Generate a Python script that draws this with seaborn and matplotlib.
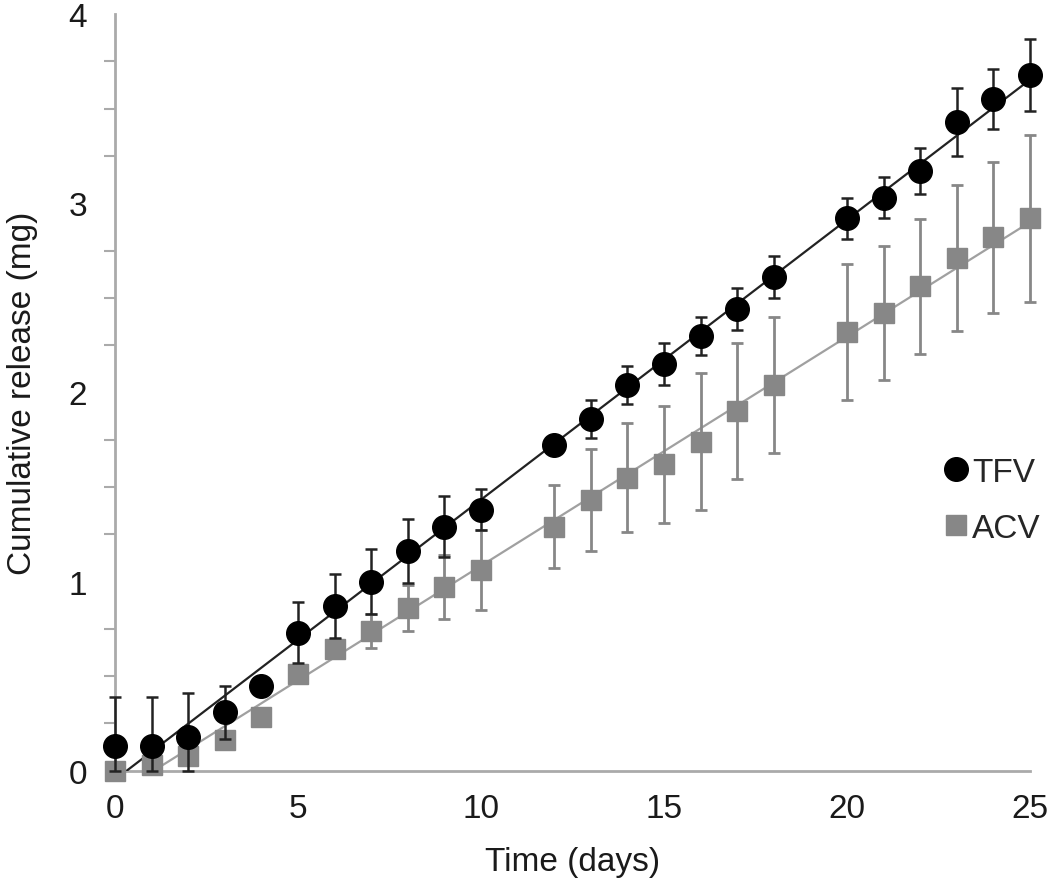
import numpy as np
import pandas as pd
import matplotlib
matplotlib.use("Agg")
import matplotlib.pyplot as plt
from matplotlib.ticker import MultipleLocator
from matplotlib.lines import Line2D
import seaborn as sns

# data
days_tfv = [0, 1, 2, 3, 4, 5, 6, 7, 8, 9, 10, 12, 13, 14, 15, 16, 17, 18, 20, 21, 22, 23, 24, 25]
tfv = [0.13, 0.13, 0.18, 0.31, 0.45, 0.73, 0.87, 1.00, 1.16, 1.29, 1.38, 1.72, 1.86, 2.04,
       2.15, 2.30, 2.44, 2.61, 2.92, 3.03, 3.17, 3.43, 3.55, 3.68]
tfv_err = [0.26, 0.26, 0.23, 0.14, 0.03, 0.16, 0.17, 0.17, 0.17, 0.16, 0.11, 0.03, 0.10, 0.10,
           0.11, 0.10, 0.11, 0.11, 0.11, 0.11, 0.12, 0.18, 0.16, 0.19]

days_acv = days_tfv
acv = [0.00, 0.03, 0.08, 0.16, 0.285, 0.51, 0.645, 0.74, 0.86, 0.97, 1.06, 1.29, 1.43, 1.55,
       1.62, 1.74, 1.90, 2.04, 2.32, 2.42, 2.56, 2.71, 2.82, 2.92]
acv_err = [0.01, 0.01, 0.02, 0.03, 0.02, 0.03, 0.05, 0.09, 0.12, 0.17, 0.21, 0.22, 0.27, 0.29,
           0.31, 0.36, 0.36, 0.36, 0.36, 0.355, 0.355, 0.385, 0.40, 0.44]

df_tfv = pd.DataFrame({"day": days_tfv, "mg": tfv})
df_acv = pd.DataFrame({"day": days_acv, "mg": acv})

# error bars don't go below the x axis
tfv_yerr = [np.minimum(tfv_err, tfv), tfv_err]
acv_yerr = [np.minimum(acv_err, acv), acv_err]

sns.set_style("white")
plt.rcParams["font.family"] = ["Liberation Sans", "DejaVu Sans"]

fig, ax = plt.subplots(figsize=(10.5, 8.87), dpi=100)
fig.subplots_adjust(left=0.1095, right=0.981, top=0.983, bottom=0.130)

black = "#000000"
grey = "#878787"

# linear trend lines
sns.regplot(data=df_acv, x="day", y="mg", scatter=False, ci=None, ax=ax,
            line_kws={"color": "#a0a0a0", "lw": 1.6, "zorder": 1})
sns.regplot(data=df_tfv, x="day", y="mg", scatter=False, ci=None, ax=ax,
            line_kws={"color": "#222222", "lw": 1.6, "zorder": 1})

# error bars + markers
ax.errorbar(days_acv, acv, yerr=acv_yerr, fmt="s", color=grey, ms=15, ecolor=grey,
            elinewidth=2, capsize=4, capthick=2, zorder=2, clip_on=False)
ax.errorbar(days_tfv, tfv, yerr=tfv_yerr, fmt="o", color=black, ms=17, ecolor="#222222",
            elinewidth=1.8, capsize=4, capthick=1.8, zorder=3, clip_on=False)

ax.set_xlim(0, 25)
ax.set_ylim(0, 4)
ax.xaxis.set_major_locator(MultipleLocator(5))
ax.yaxis.set_major_locator(MultipleLocator(1))
ax.yaxis.set_minor_locator(MultipleLocator(0.25))

for side in ["top", "right"]:
    ax.spines[side].set_visible(False)
for side in ["left", "bottom"]:
    ax.spines[side].set_color("#aaaaaa")
    ax.spines[side].set_linewidth(2)
    ax.spines[side].set_zorder(0)

ax.tick_params(axis="both", which="both", direction="out", color="#aaaaaa", width=1.5,
               labelsize=24, labelcolor="#1a1a1a")
ax.tick_params(axis="y", which="major", length=8, pad=12)
ax.tick_params(axis="y", which="minor", length=8, left=True)
ax.tick_params(axis="x", which="major", length=6, pad=10)

ax.set_xlabel("Time (days)", fontsize=24, color="#1a1a1a", labelpad=16)
ax.set_ylabel("Cumulative release (mg)", fontsize=24, color="#1a1a1a", labelpad=22)

handles = [Line2D([], [], marker="o", ls="", color=black, ms=17),
           Line2D([], [], marker="s", ls="", color=grey, ms=15)]
ax.legend(handles, ["TFV", "ACV"], loc="center left", bbox_to_anchor=(0.886, 0.357),
          frameon=False, fontsize=24, handletextpad=0.0, handlelength=1.0,
          labelspacing=0.75, borderaxespad=0)

fig.savefig("out.png", dpi=100)
